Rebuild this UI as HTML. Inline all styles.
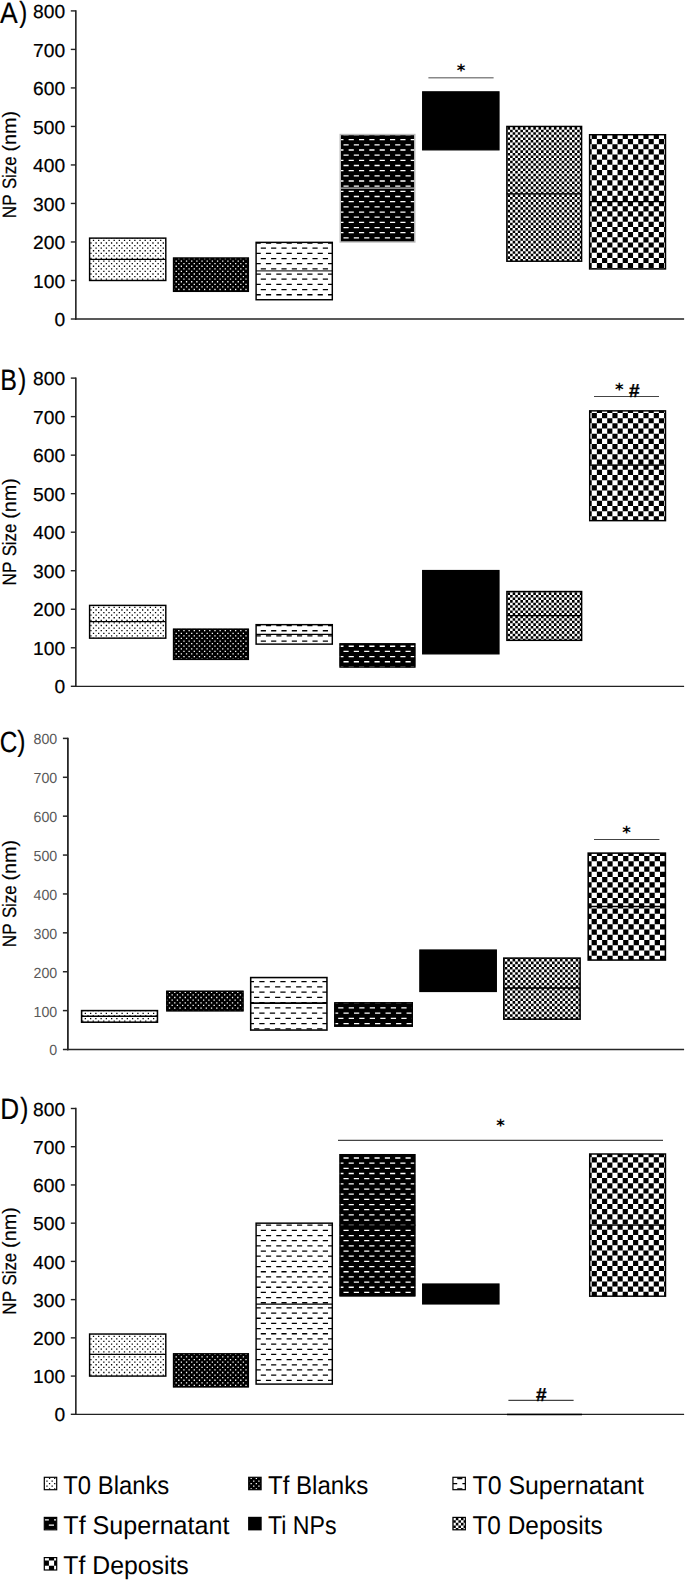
<!DOCTYPE html>
<html lang="en">
<head>
<meta charset="utf-8">
<title>NP Size figure</title>
<style>
html,body{margin:0;padding:0;background:#fff;}
svg{display:block;}
text{font-family:"Liberation Sans", sans-serif;text-rendering:geometricPrecision;}
.e{stroke:#000;stroke-width:.2px;}
.dj{font-family:"DejaVu Sans","Liberation Sans",sans-serif;}
</style>
</head>
<body>
<svg width="685" height="1580" viewBox="0 0 685 1580">
<rect width="685" height="1580" fill="#fff"/>
<defs>
<clipPath id="c1"><rect x="89.6" y="238.12" width="76.2" height="42.36"/></clipPath>
<clipPath id="c2"><rect x="172.85" y="257.38" width="76.2" height="34.66"/></clipPath>
<clipPath id="c3"><rect x="256.1" y="242.36" width="76.2" height="57.38"/></clipPath>
<clipPath id="c4"><rect x="340.25" y="134.54" width="74.55" height="107.44"/></clipPath>
<clipPath id="c5"><rect x="506.85" y="126.44" width="74.75" height="134.79"/></clipPath>
<clipPath id="c6"><rect x="589.6" y="134.72" width="75.9" height="134.22"/></clipPath>
<clipPath id="c7"><rect x="89.6" y="605.4" width="76.2" height="32.75"/></clipPath>
<clipPath id="c8"><rect x="172.85" y="628.51" width="76.2" height="31.59"/></clipPath>
<clipPath id="c9"><rect x="256.1" y="624.66" width="76.2" height="19.46"/></clipPath>
<clipPath id="c10"><rect x="339.35" y="643.15" width="76.2" height="24.54"/></clipPath>
<clipPath id="c11"><rect x="506.9" y="591.53" width="74.75" height="48.81"/></clipPath>
<clipPath id="c12"><rect x="589.7" y="410.85" width="75.8" height="109.8"/></clipPath>
<clipPath id="c13"><rect x="81.6" y="1010.61" width="75.85" height="11.59"/></clipPath>
<clipPath id="c14"><rect x="166.1" y="990.59" width="77.6" height="20.92"/></clipPath>
<clipPath id="c15"><rect x="250.7" y="977.56" width="76.25" height="52.5"/></clipPath>
<clipPath id="c16"><rect x="334.1" y="1002.06" width="78.9" height="24.81"/></clipPath>
<clipPath id="c17"><rect x="503.8" y="958.11" width="76.3" height="61.05"/></clipPath>
<clipPath id="c18"><rect x="588.2" y="853.12" width="77.2" height="106.94"/></clipPath>
<clipPath id="c19"><rect x="89.6" y="1334.03" width="76.2" height="42.05"/></clipPath>
<clipPath id="c20"><rect x="172.85" y="1353.14" width="76.2" height="34.4"/></clipPath>
<clipPath id="c21"><rect x="256.1" y="1223.17" width="76.2" height="160.93"/></clipPath>
<clipPath id="c22"><rect x="339.35" y="1153.99" width="76.2" height="142.58"/></clipPath>
<clipPath id="c23"><rect x="589.7" y="1153.99" width="75.8" height="142.2"/></clipPath>
<clipPath id="c24"><rect x="44.3" y="1477.3" width="12.4" height="12.4"/></clipPath>
<clipPath id="c25"><rect x="248.7" y="1477.3" width="12.4" height="12.4"/></clipPath>
<clipPath id="c26"><rect x="452.95" y="1477.3" width="12.4" height="12.4"/></clipPath>
<clipPath id="c27"><rect x="44.3" y="1517.4" width="12.4" height="12.4"/></clipPath>
<clipPath id="c28"><rect x="452.95" y="1517.4" width="12.4" height="12.4"/></clipPath>
<clipPath id="c29"><rect x="44.3" y="1557.6" width="12.4" height="12.4"/></clipPath>
</defs>
<line x1="75.85" y1="10.2" x2="75.85" y2="319.68" stroke="#222" stroke-width="1.6"/>
<line x1="75.05" y1="319" x2="684.1" y2="319" stroke="#222" stroke-width="1.35"/>
<line x1="70.8" y1="319" x2="75.85" y2="319" stroke="#222" stroke-width="1.4"/>
<text x="65.2" y="326.15" font-size="18.9" text-anchor="end" textLength="10.7" lengthAdjust="spacingAndGlyphs" class="e">0</text>
<line x1="70.8" y1="280.49" x2="75.85" y2="280.49" stroke="#222" stroke-width="1.4"/>
<text x="65.2" y="287.64" font-size="18.9" text-anchor="end" textLength="32.1" lengthAdjust="spacingAndGlyphs" class="e">100</text>
<line x1="70.8" y1="241.97" x2="75.85" y2="241.97" stroke="#222" stroke-width="1.4"/>
<text x="65.2" y="249.12" font-size="18.9" text-anchor="end" textLength="32.1" lengthAdjust="spacingAndGlyphs" class="e">200</text>
<line x1="70.8" y1="203.46" x2="75.85" y2="203.46" stroke="#222" stroke-width="1.4"/>
<text x="65.2" y="210.61" font-size="18.9" text-anchor="end" textLength="32.1" lengthAdjust="spacingAndGlyphs" class="e">300</text>
<line x1="70.8" y1="164.95" x2="75.85" y2="164.95" stroke="#222" stroke-width="1.4"/>
<text x="65.2" y="172.1" font-size="18.9" text-anchor="end" textLength="32.1" lengthAdjust="spacingAndGlyphs" class="e">400</text>
<line x1="70.8" y1="126.44" x2="75.85" y2="126.44" stroke="#222" stroke-width="1.4"/>
<text x="65.2" y="133.59" font-size="18.9" text-anchor="end" textLength="32.1" lengthAdjust="spacingAndGlyphs" class="e">500</text>
<line x1="70.8" y1="87.92" x2="75.85" y2="87.92" stroke="#222" stroke-width="1.4"/>
<text x="65.2" y="95.07" font-size="18.9" text-anchor="end" textLength="32.1" lengthAdjust="spacingAndGlyphs" class="e">600</text>
<line x1="70.8" y1="49.41" x2="75.85" y2="49.41" stroke="#222" stroke-width="1.4"/>
<text x="65.2" y="56.56" font-size="18.9" text-anchor="end" textLength="32.1" lengthAdjust="spacingAndGlyphs" class="e">700</text>
<line x1="70.8" y1="10.9" x2="75.85" y2="10.9" stroke="#222" stroke-width="1.4"/>
<text x="65.2" y="18.05" font-size="18.9" text-anchor="end" textLength="32.1" lengthAdjust="spacingAndGlyphs" class="e">800</text>
<text x="16.4" y="218.2" font-size="19.3" textLength="23.9" lengthAdjust="spacingAndGlyphs" transform="rotate(-90 16.4 218.2)" class="e">NP</text>
<text x="16.4" y="189.1" font-size="19.3" textLength="32.7" lengthAdjust="spacingAndGlyphs" transform="rotate(-90 16.4 189.1)" class="e">Size</text>
<text x="16.4" y="151.5" font-size="19.3" textLength="40.7" lengthAdjust="spacingAndGlyphs" transform="rotate(-90 16.4 151.5)" class="e">(nm)</text>
<text x="0.1" y="22.5" font-size="29.4" textLength="17.7" lengthAdjust="spacingAndGlyphs" class="e">A</text>
<text x="19.2" y="21.95" font-size="29.1" textLength="8" lengthAdjust="spacingAndGlyphs" class="e">)</text>
<g clip-path="url(#c1)"><rect x="89.6" y="238.12" width="76.2" height="42.36" fill="#fff"/><path d="M82.52 240.4h88.45M82.52 245.57h88.45M82.52 250.74h88.45M82.52 255.91h88.45M82.52 261.08h88.45M82.52 266.25h88.45M82.52 271.42h88.45M82.52 276.59h88.45" stroke="#000" stroke-width="1.29" stroke-dasharray="1.29 3.88" fill="none"/><path d="M79.93 237.82h91.04M79.93 242.98h91.04M79.93 248.15h91.04M79.93 253.32h91.04M79.93 258.49h91.04M79.93 263.66h91.04M79.93 268.83h91.04M79.93 274h91.04M79.93 279.17h91.04" stroke="#000" stroke-width="1.29" stroke-dasharray="1.29 3.88" fill="none"/></g><line x1="89.6" y1="259.31" x2="165.8" y2="259.31" stroke="#000" stroke-width="1.3"/><rect x="89.6" y="238.12" width="76.2" height="42.36" fill="none" stroke="#000" stroke-width="1.45"/>
<g clip-path="url(#c2)"><rect x="172.85" y="257.38" width="76.2" height="34.66" fill="#000"/><path d="M165.22 261.08h88.99M165.22 266.25h88.99M165.22 271.42h88.99M165.22 276.59h88.99M165.22 281.75h88.99M165.22 286.92h88.99M165.22 292.09h88.99" stroke="#fff" stroke-width="1.29" stroke-dasharray="1.29 3.88" fill="none"/><path d="M162.64 258.49h91.58M162.64 263.66h91.58M162.64 268.83h91.58M162.64 274h91.58M162.64 279.17h91.58M162.64 284.34h91.58M162.64 289.51h91.58" stroke="#fff" stroke-width="1.29" stroke-dasharray="1.29 3.88" fill="none"/></g><rect x="173.55" y="258.08" width="74.8" height="33.26" fill="none" stroke="#000" stroke-width="1.4"/>
<g clip-path="url(#c3)"><rect x="256.1" y="242.36" width="76.2" height="57.38" fill="#fff"/><path d="M245.26 243.04h97.38M245.26 253.38h97.38M245.26 263.71h97.38M245.26 274.05h97.38M245.26 284.39h97.38M245.26 294.73h97.38" stroke="#000" stroke-width="1.29" stroke-dasharray="5.17 5.17" fill="none"/><path d="M240.09 248.21h102.54M240.09 258.54h102.54M240.09 268.88h102.54M240.09 279.22h102.54M240.09 289.56h102.54M240.09 299.9h102.54" stroke="#000" stroke-width="1.29" stroke-dasharray="5.17 5.17" fill="none"/></g><line x1="256.1" y1="270.86" x2="332.3" y2="270.86" stroke="#333" stroke-width="1.4"/><rect x="256.1" y="242.36" width="76.2" height="57.38" fill="none" stroke="#000" stroke-width="1.45"/>
<g clip-path="url(#c4)"><rect x="340.25" y="134.54" width="74.55" height="107.44" fill="#000"/><path d="M327.97 139.65h97.17M327.97 149.99h97.17M327.97 160.33h97.17M327.97 170.67h97.17M327.97 181h97.17M327.97 191.34h97.17M327.97 201.68h97.17M327.97 212.02h97.17M327.97 222.36h97.17M327.97 232.7h97.17" stroke="#fff" stroke-width="1.29" stroke-dasharray="5.17 5.17" fill="none"/><path d="M322.8 134.48h102.34M322.8 144.82h102.34M322.8 155.16h102.34M322.8 165.5h102.34M322.8 175.84h102.34M322.8 186.17h102.34M322.8 196.51h102.34M322.8 206.85h102.34M322.8 217.19h102.34M322.8 227.53h102.34M322.8 237.87h102.34" stroke="#fff" stroke-width="1.29" stroke-dasharray="5.17 5.17" fill="none"/></g><line x1="340.25" y1="188.06" x2="414.8" y2="188.06" stroke="#bbb" stroke-width="1.3"/><rect x="340.25" y="134.54" width="74.55" height="107.44" fill="none" stroke="#bbb" stroke-width="1.45"/>
<rect x="422.6" y="91.78" width="76.45" height="58.15" fill="#000"/><rect x="422.6" y="91.78" width="76.45" height="58.15" fill="none" stroke="#000" stroke-width="1.1"/>
<g clip-path="url(#c5)"><rect x="506.85" y="126.44" width="74.75" height="134.79" fill="#fff"/><path d="M497.18 128.39h89.59M497.18 133.56h89.59M497.18 138.73h89.59M497.18 143.9h89.59M497.18 149.07h89.59M497.18 154.24h89.59M497.18 159.41h89.59M497.18 164.58h89.59M497.18 169.75h89.59M497.18 174.92h89.59M497.18 180.09h89.59M497.18 185.25h89.59M497.18 190.42h89.59M497.18 195.59h89.59M497.18 200.76h89.59M497.18 205.93h89.59M497.18 211.1h89.59M497.18 216.27h89.59M497.18 221.44h89.59M497.18 226.61h89.59M497.18 231.78h89.59M497.18 236.95h89.59M497.18 242.12h89.59M497.18 247.29h89.59M497.18 252.46h89.59M497.18 257.63h89.59" stroke="#000" stroke-width="2.58" stroke-dasharray="2.58 2.58" fill="none"/><path d="M494.59 125.81h92.18M494.59 130.98h92.18M494.59 136.15h92.18M494.59 141.32h92.18M494.59 146.48h92.18M494.59 151.65h92.18M494.59 156.82h92.18M494.59 161.99h92.18M494.59 167.16h92.18M494.59 172.33h92.18M494.59 177.5h92.18M494.59 182.67h92.18M494.59 187.84h92.18M494.59 193.01h92.18M494.59 198.18h92.18M494.59 203.35h92.18M494.59 208.52h92.18M494.59 213.69h92.18M494.59 218.86h92.18M494.59 224.02h92.18M494.59 229.19h92.18M494.59 234.36h92.18M494.59 239.53h92.18M494.59 244.7h92.18M494.59 249.87h92.18M494.59 255.04h92.18M494.59 260.21h92.18" stroke="#000" stroke-width="2.58" stroke-dasharray="2.58 2.58" fill="none"/></g><line x1="506.85" y1="193.83" x2="581.6" y2="193.83" stroke="#000" stroke-width="1.3"/><rect x="506.85" y="126.44" width="74.75" height="134.79" fill="none" stroke="#000" stroke-width="1.45"/>
<g clip-path="url(#c6)"><rect x="589.6" y="134.72" width="75.9" height="134.22" fill="#fff"/><path d="M571.02 136.41h104.82M571.02 146.75h104.82M571.02 157.09h104.82M571.02 167.43h104.82M571.02 177.77h104.82M571.02 188.11h104.82M571.02 198.45h104.82M571.02 208.79h104.82M571.02 219.12h104.82M571.02 229.46h104.82M571.02 239.8h104.82M571.02 250.14h104.82M571.02 260.48h104.82M571.02 270.82h104.82" stroke="#000" stroke-width="5.17" stroke-dasharray="5.17 5.17" fill="none"/><path d="M565.85 141.58h109.99M565.85 151.92h109.99M565.85 162.26h109.99M565.85 172.6h109.99M565.85 182.94h109.99M565.85 193.28h109.99M565.85 203.62h109.99M565.85 213.95h109.99M565.85 224.29h109.99M565.85 234.63h109.99M565.85 244.97h109.99M565.85 255.31h109.99M565.85 265.65h109.99" stroke="#000" stroke-width="5.17" stroke-dasharray="5.17 5.17" fill="none"/></g><line x1="589.6" y1="201.54" x2="665.5" y2="201.54" stroke="#000" stroke-width="1.3"/><rect x="589.6" y="134.72" width="75.9" height="134.22" fill="none" stroke="#000" stroke-width="1.45"/>
<line x1="428.4" y1="77.8" x2="493.6" y2="77.8" stroke="#888" stroke-width="1.4"/>
<text x="461" y="76.26" font-size="16.4" text-anchor="middle" font-weight="bold" class="dj">*</text>
<line x1="75.85" y1="377.4" x2="75.85" y2="686.97" stroke="#222" stroke-width="1.6"/>
<line x1="75.05" y1="686.3" x2="684.1" y2="686.3" stroke="#222" stroke-width="1.35"/>
<line x1="70.8" y1="686.3" x2="75.85" y2="686.3" stroke="#222" stroke-width="1.4"/>
<text x="65.2" y="693.45" font-size="18.9" text-anchor="end" textLength="10.7" lengthAdjust="spacingAndGlyphs" class="e">0</text>
<line x1="70.8" y1="647.77" x2="75.85" y2="647.77" stroke="#222" stroke-width="1.4"/>
<text x="65.2" y="654.92" font-size="18.9" text-anchor="end" textLength="32.1" lengthAdjust="spacingAndGlyphs" class="e">100</text>
<line x1="70.8" y1="609.25" x2="75.85" y2="609.25" stroke="#222" stroke-width="1.4"/>
<text x="65.2" y="616.4" font-size="18.9" text-anchor="end" textLength="32.1" lengthAdjust="spacingAndGlyphs" class="e">200</text>
<line x1="70.8" y1="570.73" x2="75.85" y2="570.73" stroke="#222" stroke-width="1.4"/>
<text x="65.2" y="577.88" font-size="18.9" text-anchor="end" textLength="32.1" lengthAdjust="spacingAndGlyphs" class="e">300</text>
<line x1="70.8" y1="532.2" x2="75.85" y2="532.2" stroke="#222" stroke-width="1.4"/>
<text x="65.2" y="539.35" font-size="18.9" text-anchor="end" textLength="32.1" lengthAdjust="spacingAndGlyphs" class="e">400</text>
<line x1="70.8" y1="493.67" x2="75.85" y2="493.67" stroke="#222" stroke-width="1.4"/>
<text x="65.2" y="500.82" font-size="18.9" text-anchor="end" textLength="32.1" lengthAdjust="spacingAndGlyphs" class="e">500</text>
<line x1="70.8" y1="455.15" x2="75.85" y2="455.15" stroke="#222" stroke-width="1.4"/>
<text x="65.2" y="462.3" font-size="18.9" text-anchor="end" textLength="32.1" lengthAdjust="spacingAndGlyphs" class="e">600</text>
<line x1="70.8" y1="416.62" x2="75.85" y2="416.62" stroke="#222" stroke-width="1.4"/>
<text x="65.2" y="423.77" font-size="18.9" text-anchor="end" textLength="32.1" lengthAdjust="spacingAndGlyphs" class="e">700</text>
<line x1="70.8" y1="378.1" x2="75.85" y2="378.1" stroke="#222" stroke-width="1.4"/>
<text x="65.2" y="385.25" font-size="18.9" text-anchor="end" textLength="32.1" lengthAdjust="spacingAndGlyphs" class="e">800</text>
<text x="16.4" y="585.45" font-size="19.3" textLength="23.9" lengthAdjust="spacingAndGlyphs" transform="rotate(-90 16.4 585.45)" class="e">NP</text>
<text x="16.4" y="556.35" font-size="19.3" textLength="32.7" lengthAdjust="spacingAndGlyphs" transform="rotate(-90 16.4 556.35)" class="e">Size</text>
<text x="16.4" y="518.75" font-size="19.3" textLength="40.7" lengthAdjust="spacingAndGlyphs" transform="rotate(-90 16.4 518.75)" class="e">(nm)</text>
<text x="0.3" y="389.7" font-size="29.4" textLength="16.7" lengthAdjust="spacingAndGlyphs" class="e">B</text>
<text x="18.3" y="389.15" font-size="29.1" textLength="8" lengthAdjust="spacingAndGlyphs" class="e">)</text>
<g clip-path="url(#c7)"><rect x="89.6" y="605.4" width="76.2" height="32.75" fill="#fff"/><path d="M82.52 607.42h88.45M82.52 612.59h88.45M82.52 617.76h88.45M82.52 622.93h88.45M82.52 628.1h88.45M82.52 633.27h88.45M82.52 638.44h88.45" stroke="#000" stroke-width="1.29" stroke-dasharray="1.29 3.88" fill="none"/><path d="M79.93 604.84h91.04M79.93 610.01h91.04M79.93 615.18h91.04M79.93 620.35h91.04M79.93 625.51h91.04M79.93 630.68h91.04M79.93 635.85h91.04" stroke="#000" stroke-width="1.29" stroke-dasharray="1.29 3.88" fill="none"/></g><line x1="89.6" y1="621.58" x2="165.8" y2="621.58" stroke="#000" stroke-width="1.4"/><rect x="89.6" y="605.4" width="76.2" height="32.75" fill="none" stroke="#000" stroke-width="1.45"/>
<g clip-path="url(#c8)"><rect x="172.85" y="628.51" width="76.2" height="31.59" fill="#000"/><path d="M165.22 628.1h88.99M165.22 633.27h88.99M165.22 638.44h88.99M165.22 643.61h88.99M165.22 648.78h88.99M165.22 653.95h88.99M165.22 659.12h88.99" stroke="#fff" stroke-width="1.29" stroke-dasharray="1.29 3.88" fill="none"/><path d="M162.64 630.68h91.58M162.64 635.85h91.58M162.64 641.02h91.58M162.64 646.19h91.58M162.64 651.36h91.58M162.64 656.53h91.58" stroke="#fff" stroke-width="1.29" stroke-dasharray="1.29 3.88" fill="none"/></g><rect x="173.55" y="629.21" width="74.8" height="30.19" fill="none" stroke="#000" stroke-width="1.4"/>
<g clip-path="url(#c9)"><rect x="256.1" y="624.66" width="76.2" height="19.46" fill="#fff"/><path d="M245.26 625.57h97.38M245.26 635.9h97.38" stroke="#000" stroke-width="1.29" stroke-dasharray="5.17 5.17" fill="none"/><path d="M240.09 630.74h102.54M240.09 641.07h102.54" stroke="#000" stroke-width="1.29" stroke-dasharray="5.17 5.17" fill="none"/></g><line x1="256.1" y1="634.29" x2="332.3" y2="634.29" stroke="#000" stroke-width="1.3"/><rect x="256.1" y="624.66" width="76.2" height="19.46" fill="none" stroke="#000" stroke-width="1.45"/>
<g clip-path="url(#c10)"><rect x="339.35" y="643.15" width="76.2" height="24.54" fill="#000"/><path d="M327.97 646.24h97.92M327.97 656.58h97.92M327.97 666.92h97.92" stroke="#fff" stroke-width="1.29" stroke-dasharray="5.17 5.17" fill="none"/><path d="M322.8 651.41h103.09M322.8 661.75h103.09" stroke="#fff" stroke-width="1.29" stroke-dasharray="5.17 5.17" fill="none"/></g><rect x="340.05" y="643.85" width="74.8" height="23.14" fill="none" stroke="#000" stroke-width="1.4"/>
<rect x="422.6" y="570.46" width="76.45" height="83.48" fill="#000"/><rect x="422.6" y="570.46" width="76.45" height="83.48" fill="none" stroke="#000" stroke-width="1.1"/>
<g clip-path="url(#c11)"><rect x="506.9" y="591.53" width="74.75" height="48.81" fill="#fff"/><path d="M497.18 593.63h89.64M497.18 598.8h89.64M497.18 603.97h89.64M497.18 609.14h89.64M497.18 614.31h89.64M497.18 619.48h89.64M497.18 624.65h89.64M497.18 629.82h89.64M497.18 634.99h89.64M497.18 640.16h89.64" stroke="#000" stroke-width="2.58" stroke-dasharray="2.58 2.58" fill="none"/><path d="M494.59 591.05h92.23M494.59 596.22h92.23M494.59 601.39h92.23M494.59 606.55h92.23M494.59 611.72h92.23M494.59 616.89h92.23M494.59 622.06h92.23M494.59 627.23h92.23M494.59 632.4h92.23M494.59 637.57h92.23" stroke="#000" stroke-width="2.58" stroke-dasharray="2.58 2.58" fill="none"/></g><line x1="506.9" y1="615.61" x2="581.65" y2="615.61" stroke="#000" stroke-width="1.3"/><rect x="506.9" y="591.53" width="74.75" height="48.81" fill="none" stroke="#000" stroke-width="1.45"/>
<g clip-path="url(#c12)"><rect x="589.7" y="410.85" width="75.8" height="109.8" fill="#fff"/><path d="M571.02 415.56h104.82M571.02 425.9h104.82M571.02 436.24h104.82M571.02 446.57h104.82M571.02 456.91h104.82M571.02 467.25h104.82M571.02 477.59h104.82M571.02 487.93h104.82M571.02 498.27h104.82M571.02 508.61h104.82M571.02 518.94h104.82" stroke="#000" stroke-width="5.17" stroke-dasharray="5.17 5.17" fill="none"/><path d="M565.85 410.39h109.99M565.85 420.73h109.99M565.85 431.07h109.99M565.85 441.4h109.99M565.85 451.74h109.99M565.85 462.08h109.99M565.85 472.42h109.99M565.85 482.76h109.99M565.85 493.1h109.99M565.85 503.44h109.99M565.85 513.78h109.99" stroke="#000" stroke-width="5.17" stroke-dasharray="5.17 5.17" fill="none"/></g><line x1="589.7" y1="465.17" x2="665.5" y2="465.17" stroke="#000" stroke-width="1.3"/><rect x="589.7" y="410.85" width="75.8" height="109.8" fill="none" stroke="#000" stroke-width="1.45"/>
<line x1="594" y1="396.5" x2="659" y2="396.5" stroke="#444" stroke-width="1.2"/>
<text x="619.2" y="395.21" font-size="16.4" text-anchor="middle" font-weight="bold" class="dj">*</text>
<text x="634.2" y="396.9" font-size="19" text-anchor="middle" font-weight="bold" stroke="#000" stroke-width="0.35">#</text>
<line x1="67.9" y1="737.65" x2="67.9" y2="1050.17" stroke="#262626" stroke-width="1.8"/>
<line x1="67" y1="1049.5" x2="684.1" y2="1049.5" stroke="#262626" stroke-width="1.35"/>
<line x1="62.9" y1="1049.5" x2="67.9" y2="1049.5" stroke="#262626" stroke-width="1.5"/>
<text x="57.25" y="1055.4" font-size="14.6" text-anchor="end" fill="#595959" textLength="7.9" lengthAdjust="spacingAndGlyphs">0</text>
<line x1="62.9" y1="1010.61" x2="67.9" y2="1010.61" stroke="#262626" stroke-width="1.5"/>
<text x="57.25" y="1016.51" font-size="14.6" text-anchor="end" fill="#595959" textLength="23.7" lengthAdjust="spacingAndGlyphs">100</text>
<line x1="62.9" y1="971.73" x2="67.9" y2="971.73" stroke="#262626" stroke-width="1.5"/>
<text x="57.25" y="977.62" font-size="14.6" text-anchor="end" fill="#595959" textLength="23.7" lengthAdjust="spacingAndGlyphs">200</text>
<line x1="62.9" y1="932.84" x2="67.9" y2="932.84" stroke="#262626" stroke-width="1.5"/>
<text x="57.25" y="938.74" font-size="14.6" text-anchor="end" fill="#595959" textLength="23.7" lengthAdjust="spacingAndGlyphs">300</text>
<line x1="62.9" y1="893.95" x2="67.9" y2="893.95" stroke="#262626" stroke-width="1.5"/>
<text x="57.25" y="899.85" font-size="14.6" text-anchor="end" fill="#595959" textLength="23.7" lengthAdjust="spacingAndGlyphs">400</text>
<line x1="62.9" y1="855.06" x2="67.9" y2="855.06" stroke="#262626" stroke-width="1.5"/>
<text x="57.25" y="860.96" font-size="14.6" text-anchor="end" fill="#595959" textLength="23.7" lengthAdjust="spacingAndGlyphs">500</text>
<line x1="62.9" y1="816.17" x2="67.9" y2="816.17" stroke="#262626" stroke-width="1.5"/>
<text x="57.25" y="822.07" font-size="14.6" text-anchor="end" fill="#595959" textLength="23.7" lengthAdjust="spacingAndGlyphs">600</text>
<line x1="62.9" y1="777.29" x2="67.9" y2="777.29" stroke="#262626" stroke-width="1.5"/>
<text x="57.25" y="783.19" font-size="14.6" text-anchor="end" fill="#595959" textLength="23.7" lengthAdjust="spacingAndGlyphs">700</text>
<line x1="62.9" y1="738.4" x2="67.9" y2="738.4" stroke="#262626" stroke-width="1.5"/>
<text x="57.25" y="744.3" font-size="14.6" text-anchor="end" fill="#595959" textLength="23.7" lengthAdjust="spacingAndGlyphs">800</text>
<text x="16.4" y="947.2" font-size="19.3" textLength="23.9" lengthAdjust="spacingAndGlyphs" transform="rotate(-90 16.4 947.2)" class="e">NP</text>
<text x="16.4" y="918.1" font-size="19.3" textLength="32.7" lengthAdjust="spacingAndGlyphs" transform="rotate(-90 16.4 918.1)" class="e">Size</text>
<text x="16.4" y="880.5" font-size="19.3" textLength="40.7" lengthAdjust="spacingAndGlyphs" transform="rotate(-90 16.4 880.5)" class="e">(nm)</text>
<text x="-0.3" y="751.5" font-size="29.4" textLength="17.6" lengthAdjust="spacingAndGlyphs" class="e">C</text>
<text x="17.3" y="750.95" font-size="29.1" textLength="8.2" lengthAdjust="spacingAndGlyphs" class="e">)</text>
<g clip-path="url(#c13)"><rect x="81.6" y="1010.61" width="75.85" height="11.59" fill="#fff"/><path d="M74.22 1013.3h88.49M74.22 1018.56h88.49" stroke="#000" stroke-width="1.31" stroke-dasharray="1.31 3.94" fill="none"/><path d="M71.59 1010.67h91.12M71.59 1015.93h91.12M71.59 1021.19h91.12" stroke="#000" stroke-width="1.31" stroke-dasharray="1.31 3.94" fill="none"/></g><line x1="81.6" y1="1016.33" x2="157.45" y2="1016.33" stroke="#000" stroke-width="1.5"/><rect x="81.6" y="1010.61" width="75.85" height="11.59" fill="none" stroke="#000" stroke-width="1.55"/>
<g clip-path="url(#c14)"><rect x="166.1" y="990.59" width="77.6" height="20.92" fill="#000"/><path d="M158.38 992.26h90.58M158.38 997.52h90.58M158.38 1002.78h90.58M158.38 1008.04h90.58" stroke="#fff" stroke-width="1.31" stroke-dasharray="1.31 3.94" fill="none"/><path d="M155.75 994.89h93.21M155.75 1000.15h93.21M155.75 1005.41h93.21M155.75 1010.67h93.21" stroke="#fff" stroke-width="1.31" stroke-dasharray="1.31 3.94" fill="none"/></g><rect x="166.8" y="991.29" width="76.2" height="19.52" fill="none" stroke="#000" stroke-width="1.4"/>
<g clip-path="url(#c15)"><rect x="250.7" y="977.56" width="76.25" height="52.5" fill="#fff"/><path d="M233 986.86h104.47M233 997.38h104.47M233 1007.9h104.47M233 1018.42h104.47M233 1028.94h104.47" stroke="#000" stroke-width="1.31" stroke-dasharray="5.26 5.26" fill="none"/><path d="M227.74 981.6h109.73M227.74 992.12h109.73M227.74 1002.64h109.73M227.74 1013.16h109.73M227.74 1023.68h109.73" stroke="#000" stroke-width="1.31" stroke-dasharray="5.26 5.26" fill="none"/></g><line x1="250.7" y1="1003.22" x2="326.95" y2="1003.22" stroke="#000" stroke-width="1.8"/><rect x="250.7" y="977.56" width="76.25" height="52.5" fill="none" stroke="#000" stroke-width="1.55"/>
<g clip-path="url(#c16)"><rect x="334.1" y="1002.06" width="78.9" height="24.81" fill="#000"/><path d="M317.16 1007.9h106.36M317.16 1018.42h106.36" stroke="#fff" stroke-width="1.31" stroke-dasharray="5.26 5.26" fill="none"/><path d="M311.9 1002.64h111.62M311.9 1013.16h111.62M311.9 1023.68h111.62" stroke="#fff" stroke-width="1.31" stroke-dasharray="5.26 5.26" fill="none"/></g><rect x="334.8" y="1002.76" width="77.5" height="23.41" fill="none" stroke="#000" stroke-width="1.4"/>
<rect x="419.8" y="949.95" width="76.6" height="41.61" fill="#000"/><rect x="419.8" y="949.95" width="76.6" height="41.61" fill="none" stroke="#000" stroke-width="1.1"/>
<g clip-path="url(#c17)"><rect x="503.8" y="958.11" width="76.3" height="61.05" fill="#fff"/><path d="M496.78 960.3h88.58M496.78 965.56h88.58M496.78 970.82h88.58M496.78 976.08h88.58M496.78 981.34h88.58M496.78 986.6h88.58M496.78 991.86h88.58M496.78 997.12h88.58M496.78 1002.38h88.58M496.78 1007.64h88.58M496.78 1012.9h88.58M496.78 1018.16h88.58" stroke="#000" stroke-width="2.63" stroke-dasharray="2.63 2.63" fill="none"/><path d="M494.15 957.67h91.21M494.15 962.93h91.21M494.15 968.19h91.21M494.15 973.45h91.21M494.15 978.71h91.21M494.15 983.97h91.21M494.15 989.23h91.21M494.15 994.49h91.21M494.15 999.75h91.21M494.15 1005.01h91.21M494.15 1010.27h91.21M494.15 1015.53h91.21" stroke="#000" stroke-width="2.63" stroke-dasharray="2.63 2.63" fill="none"/></g><line x1="503.8" y1="988.06" x2="580.1" y2="988.06" stroke="#000" stroke-width="1.5"/><rect x="503.8" y="958.11" width="76.3" height="61.05" fill="none" stroke="#000" stroke-width="1.55"/>
<g clip-path="url(#c18)"><rect x="588.2" y="853.12" width="77.2" height="106.94" fill="#fff"/><path d="M570.56 858.55h105.36M570.56 869.07h105.36M570.56 879.59h105.36M570.56 890.11h105.36M570.56 900.63h105.36M570.56 911.15h105.36M570.56 921.67h105.36M570.56 932.19h105.36M570.56 942.71h105.36M570.56 953.23h105.36" stroke="#000" stroke-width="5.26" stroke-dasharray="5.26 5.26" fill="none"/><path d="M565.3 853.29h110.62M565.3 863.81h110.62M565.3 874.33h110.62M565.3 884.85h110.62M565.3 895.37h110.62M565.3 905.89h110.62M565.3 916.41h110.62M565.3 926.93h110.62M565.3 937.45h110.62M565.3 947.97h110.62M565.3 958.49h110.62" stroke="#000" stroke-width="5.26" stroke-dasharray="5.26 5.26" fill="none"/></g><line x1="588.2" y1="906.39" x2="665.4" y2="906.39" stroke="#000" stroke-width="1.5"/><rect x="588.2" y="853.12" width="77.2" height="106.94" fill="none" stroke="#000" stroke-width="1.55"/>
<line x1="594" y1="839.5" x2="659.4" y2="839.5" stroke="#444" stroke-width="1.2"/>
<text x="626.5" y="838.16" font-size="16.4" text-anchor="middle" font-weight="bold" class="dj">*</text>
<line x1="75.85" y1="1107.8" x2="75.85" y2="1414.97" stroke="#222" stroke-width="1.6"/>
<line x1="75.05" y1="1414.3" x2="684.1" y2="1414.3" stroke="#222" stroke-width="1.35"/>
<line x1="70.8" y1="1414.3" x2="75.85" y2="1414.3" stroke="#222" stroke-width="1.4"/>
<text x="65.2" y="1421.45" font-size="18.9" text-anchor="end" textLength="10.7" lengthAdjust="spacingAndGlyphs" class="e">0</text>
<line x1="70.8" y1="1376.08" x2="75.85" y2="1376.08" stroke="#222" stroke-width="1.4"/>
<text x="65.2" y="1383.23" font-size="18.9" text-anchor="end" textLength="32.1" lengthAdjust="spacingAndGlyphs" class="e">100</text>
<line x1="70.8" y1="1337.85" x2="75.85" y2="1337.85" stroke="#222" stroke-width="1.4"/>
<text x="65.2" y="1345" font-size="18.9" text-anchor="end" textLength="32.1" lengthAdjust="spacingAndGlyphs" class="e">200</text>
<line x1="70.8" y1="1299.62" x2="75.85" y2="1299.62" stroke="#222" stroke-width="1.4"/>
<text x="65.2" y="1306.78" font-size="18.9" text-anchor="end" textLength="32.1" lengthAdjust="spacingAndGlyphs" class="e">300</text>
<line x1="70.8" y1="1261.4" x2="75.85" y2="1261.4" stroke="#222" stroke-width="1.4"/>
<text x="65.2" y="1268.55" font-size="18.9" text-anchor="end" textLength="32.1" lengthAdjust="spacingAndGlyphs" class="e">400</text>
<line x1="70.8" y1="1223.17" x2="75.85" y2="1223.17" stroke="#222" stroke-width="1.4"/>
<text x="65.2" y="1230.33" font-size="18.9" text-anchor="end" textLength="32.1" lengthAdjust="spacingAndGlyphs" class="e">500</text>
<line x1="70.8" y1="1184.95" x2="75.85" y2="1184.95" stroke="#222" stroke-width="1.4"/>
<text x="65.2" y="1192.1" font-size="18.9" text-anchor="end" textLength="32.1" lengthAdjust="spacingAndGlyphs" class="e">600</text>
<line x1="70.8" y1="1146.72" x2="75.85" y2="1146.72" stroke="#222" stroke-width="1.4"/>
<text x="65.2" y="1153.88" font-size="18.9" text-anchor="end" textLength="32.1" lengthAdjust="spacingAndGlyphs" class="e">700</text>
<line x1="70.8" y1="1108.5" x2="75.85" y2="1108.5" stroke="#222" stroke-width="1.4"/>
<text x="65.2" y="1115.65" font-size="18.9" text-anchor="end" textLength="32.1" lengthAdjust="spacingAndGlyphs" class="e">800</text>
<text x="16.4" y="1314.65" font-size="19.3" textLength="23.9" lengthAdjust="spacingAndGlyphs" transform="rotate(-90 16.4 1314.65)" class="e">NP</text>
<text x="16.4" y="1285.55" font-size="19.3" textLength="32.7" lengthAdjust="spacingAndGlyphs" transform="rotate(-90 16.4 1285.55)" class="e">Size</text>
<text x="16.4" y="1247.95" font-size="19.3" textLength="40.7" lengthAdjust="spacingAndGlyphs" transform="rotate(-90 16.4 1247.95)" class="e">(nm)</text>
<text x="0.2" y="1118.5" font-size="29.4" textLength="18.9" lengthAdjust="spacingAndGlyphs" class="e">D</text>
<text x="20.3" y="1117.95" font-size="29.1" textLength="8.1" lengthAdjust="spacingAndGlyphs" class="e">)</text>
<g clip-path="url(#c19)"><rect x="89.6" y="1334.03" width="76.2" height="42.05" fill="#fff"/><path d="M82.52 1336.3h88.45M82.52 1341.47h88.45M82.52 1346.63h88.45M82.52 1351.8h88.45M82.52 1356.97h88.45M82.52 1362.14h88.45M82.52 1367.31h88.45M82.52 1372.48h88.45" stroke="#000" stroke-width="1.29" stroke-dasharray="1.29 3.88" fill="none"/><path d="M79.93 1333.71h91.04M79.93 1338.88h91.04M79.93 1344.05h91.04M79.93 1349.22h91.04M79.93 1354.39h91.04M79.93 1359.56h91.04M79.93 1364.73h91.04M79.93 1369.9h91.04M79.93 1375.07h91.04" stroke="#000" stroke-width="1.29" stroke-dasharray="1.29 3.88" fill="none"/></g><line x1="89.6" y1="1354.29" x2="165.8" y2="1354.29" stroke="#000" stroke-width="1.3"/><rect x="89.6" y="1334.03" width="76.2" height="42.05" fill="none" stroke="#000" stroke-width="1.45"/>
<g clip-path="url(#c20)"><rect x="172.85" y="1353.14" width="76.2" height="34.4" fill="#000"/><path d="M165.22 1356.97h88.99M165.22 1362.14h88.99M165.22 1367.31h88.99M165.22 1372.48h88.99M165.22 1377.65h88.99M165.22 1382.82h88.99M165.22 1387.99h88.99" stroke="#fff" stroke-width="1.29" stroke-dasharray="1.29 3.88" fill="none"/><path d="M162.64 1354.39h91.58M162.64 1359.56h91.58M162.64 1364.73h91.58M162.64 1369.9h91.58M162.64 1375.07h91.58M162.64 1380.24h91.58M162.64 1385.4h91.58" stroke="#fff" stroke-width="1.29" stroke-dasharray="1.29 3.88" fill="none"/></g><rect x="173.55" y="1353.84" width="74.8" height="33" fill="none" stroke="#000" stroke-width="1.4"/>
<g clip-path="url(#c21)"><rect x="256.1" y="1223.17" width="76.2" height="160.93" fill="#fff"/><path d="M245.26 1225.21h97.38M245.26 1235.55h97.38M245.26 1245.88h97.38M245.26 1256.22h97.38M245.26 1266.56h97.38M245.26 1276.9h97.38M245.26 1287.24h97.38M245.26 1297.58h97.38M245.26 1307.92h97.38M245.26 1318.26h97.38M245.26 1328.59h97.38M245.26 1338.93h97.38M245.26 1349.27h97.38M245.26 1359.61h97.38M245.26 1369.95h97.38M245.26 1380.29h97.38" stroke="#000" stroke-width="1.29" stroke-dasharray="5.17 5.17" fill="none"/><path d="M240.09 1230.38h102.54M240.09 1240.72h102.54M240.09 1251.05h102.54M240.09 1261.39h102.54M240.09 1271.73h102.54M240.09 1282.07h102.54M240.09 1292.41h102.54M240.09 1302.75h102.54M240.09 1313.09h102.54M240.09 1323.42h102.54M240.09 1333.76h102.54M240.09 1344.1h102.54M240.09 1354.44h102.54M240.09 1364.78h102.54M240.09 1375.12h102.54" stroke="#000" stroke-width="1.29" stroke-dasharray="5.17 5.17" fill="none"/></g><line x1="256.1" y1="1304.21" x2="332.3" y2="1304.21" stroke="#000" stroke-width="1.3"/><rect x="256.1" y="1223.17" width="76.2" height="160.93" fill="none" stroke="#000" stroke-width="1.45"/>
<g clip-path="url(#c22)"><rect x="339.35" y="1153.99" width="76.2" height="142.58" fill="#000"/><path d="M327.97 1163.18h97.92M327.97 1173.51h97.92M327.97 1183.85h97.92M327.97 1194.19h97.92M327.97 1204.53h97.92M327.97 1214.87h97.92M327.97 1225.21h97.92M327.97 1235.55h97.92M327.97 1245.88h97.92M327.97 1256.22h97.92M327.97 1266.56h97.92M327.97 1276.9h97.92M327.97 1287.24h97.92" stroke="#fff" stroke-width="1.29" stroke-dasharray="5.17 5.17" fill="none"/><path d="M322.8 1158.01h103.09M322.8 1168.34h103.09M322.8 1178.68h103.09M322.8 1189.02h103.09M322.8 1199.36h103.09M322.8 1209.7h103.09M322.8 1220.04h103.09M322.8 1230.38h103.09M322.8 1240.72h103.09M322.8 1251.05h103.09M322.8 1261.39h103.09M322.8 1271.73h103.09M322.8 1282.07h103.09M322.8 1292.41h103.09" stroke="#fff" stroke-width="1.29" stroke-dasharray="5.17 5.17" fill="none"/></g><line x1="339.35" y1="1225.09" x2="415.55" y2="1225.09" stroke="#000" stroke-width="1.3"/><rect x="340.05" y="1154.69" width="74.8" height="141.18" fill="none" stroke="#000" stroke-width="1.4"/>
<rect x="422.6" y="1283.95" width="76.45" height="20.07" fill="#000"/><rect x="422.6" y="1283.95" width="76.45" height="20.07" fill="none" stroke="#000" stroke-width="1.1"/>
<line x1="507" y1="1414.5" x2="582" y2="1414.5" stroke="#000" stroke-width="1.5"/>
<g clip-path="url(#c23)"><rect x="589.7" y="1153.99" width="75.8" height="142.2" fill="#fff"/><path d="M571.02 1159.94h104.82M571.02 1170.28h104.82M571.02 1180.62h104.82M571.02 1190.96h104.82M571.02 1201.29h104.82M571.02 1211.63h104.82M571.02 1221.97h104.82M571.02 1232.31h104.82M571.02 1242.65h104.82M571.02 1252.99h104.82M571.02 1263.33h104.82M571.02 1273.67h104.82M571.02 1284h104.82M571.02 1294.34h104.82" stroke="#000" stroke-width="5.17" stroke-dasharray="5.17 5.17" fill="none"/><path d="M565.85 1154.77h109.99M565.85 1165.11h109.99M565.85 1175.45h109.99M565.85 1185.79h109.99M565.85 1196.13h109.99M565.85 1206.46h109.99M565.85 1216.8h109.99M565.85 1227.14h109.99M565.85 1237.48h109.99M565.85 1247.82h109.99M565.85 1258.16h109.99M565.85 1268.5h109.99M565.85 1278.83h109.99M565.85 1289.17h109.99" stroke="#000" stroke-width="5.17" stroke-dasharray="5.17 5.17" fill="none"/></g><line x1="589.7" y1="1225.2" x2="665.5" y2="1225.2" stroke="#000" stroke-width="1.3"/><rect x="589.7" y="1153.99" width="75.8" height="142.2" fill="none" stroke="#000" stroke-width="1.45"/>
<line x1="338" y1="1140.4" x2="663" y2="1140.4" stroke="#444" stroke-width="1.2"/>
<text x="500.5" y="1130.76" font-size="16.4" text-anchor="middle" font-weight="bold" class="dj">*</text>
<line x1="508.4" y1="1400.4" x2="573.6" y2="1400.4" stroke="#444" stroke-width="1.2"/>
<text x="541.2" y="1400.8" font-size="19" text-anchor="middle" font-weight="bold" stroke="#000" stroke-width="0.35">#</text>
<g clip-path="url(#c24)"><rect x="44.3" y="1477.3" width="12.4" height="12.4" fill="#fff"/><path d="M35.99 1481.04h25.88M35.99 1486.21h25.88" stroke="#000" stroke-width="1.29" stroke-dasharray="1.29 3.88" fill="none"/><path d="M33.41 1478.45h28.46M33.41 1483.62h28.46M33.41 1488.79h28.46" stroke="#000" stroke-width="1.29" stroke-dasharray="1.29 3.88" fill="none"/></g>
<rect x="44.3" y="1477.3" width="12.4" height="12.4" fill="none" stroke="#000" stroke-width="1.2"/>
<text x="63.3" y="1493.6" font-size="25.7" textLength="106" lengthAdjust="spacingAndGlyphs">T0 Blanks</text>
<g clip-path="url(#c25)"><rect x="248.7" y="1477.3" width="12.4" height="12.4" fill="#000"/><path d="M242.76 1481.04h23.51M242.76 1486.21h23.51" stroke="#fff" stroke-width="1.29" stroke-dasharray="1.29 3.88" fill="none"/><path d="M240.18 1478.45h26.09M240.18 1483.62h26.09M240.18 1488.79h26.09" stroke="#fff" stroke-width="1.29" stroke-dasharray="1.29 3.88" fill="none"/></g>
<rect x="248.7" y="1477.3" width="12.4" height="12.4" fill="none" stroke="#000" stroke-width="1.2"/>
<text x="268" y="1493.6" font-size="25.7" textLength="100.3" lengthAdjust="spacingAndGlyphs">Tf Blanks</text>
<g clip-path="url(#c26)"><rect x="452.95" y="1477.3" width="12.4" height="12.4" fill="#fff"/><path d="M441.7 1483.67h33.99" stroke="#000" stroke-width="1.29" stroke-dasharray="5.17 5.17" fill="none"/><path d="M436.53 1478.5h39.16M436.53 1488.84h39.16" stroke="#000" stroke-width="1.29" stroke-dasharray="5.17 5.17" fill="none"/></g>
<rect x="452.95" y="1477.3" width="12.4" height="12.4" fill="none" stroke="#000" stroke-width="1.2"/>
<text x="472.45" y="1493.6" font-size="25.7" textLength="171.6" lengthAdjust="spacingAndGlyphs">T0 Supernatant</text>
<g clip-path="url(#c27)"><rect x="44.3" y="1517.4" width="12.4" height="12.4" fill="#000"/><path d="M28.15 1525.03h38.89" stroke="#fff" stroke-width="1.29" stroke-dasharray="5.17 5.17" fill="none"/><path d="M22.98 1519.86h44.06M22.98 1530.2h44.06" stroke="#fff" stroke-width="1.29" stroke-dasharray="5.17 5.17" fill="none"/></g>
<rect x="44.3" y="1517.4" width="12.4" height="12.4" fill="none" stroke="#000" stroke-width="1.2"/>
<text x="63.3" y="1533.7" font-size="25.7" textLength="166.2" lengthAdjust="spacingAndGlyphs">Tf Supernatant</text>
<rect x="248.1" y="1516.8" width="13.6" height="13.6" fill="#000"/>
<text x="268" y="1533.7" font-size="25.7" textLength="68.5" lengthAdjust="spacingAndGlyphs">Ti NPs</text>
<g clip-path="url(#c28)"><rect x="452.95" y="1517.4" width="12.4" height="12.4" fill="#fff"/><path d="M445.48 1518.94h25.04M445.48 1524.11h25.04M445.48 1529.28h25.04" stroke="#000" stroke-width="2.58" stroke-dasharray="2.58 2.58" fill="none"/><path d="M442.9 1516.35h27.62M442.9 1521.52h27.62M442.9 1526.69h27.62" stroke="#000" stroke-width="2.58" stroke-dasharray="2.58 2.58" fill="none"/></g>
<rect x="452.95" y="1517.4" width="12.4" height="12.4" fill="none" stroke="#000" stroke-width="1.2"/>
<text x="472.45" y="1533.7" font-size="25.7" textLength="130.2" lengthAdjust="spacingAndGlyphs">T0 Deposits</text>
<g clip-path="url(#c29)"><rect x="44.3" y="1557.6" width="12.4" height="12.4" fill="#fff"/><path d="M33.41 1563.15h33.63" stroke="#000" stroke-width="5.17" stroke-dasharray="5.17 5.17" fill="none"/><path d="M28.24 1557.98h38.79M28.24 1568.32h38.79" stroke="#000" stroke-width="5.17" stroke-dasharray="5.17 5.17" fill="none"/></g>
<rect x="44.3" y="1557.6" width="12.4" height="12.4" fill="none" stroke="#000" stroke-width="1.2"/>
<text x="63.3" y="1573.9" font-size="25.7" textLength="125.4" lengthAdjust="spacingAndGlyphs">Tf Deposits</text>
</svg>
</body>
</html>
